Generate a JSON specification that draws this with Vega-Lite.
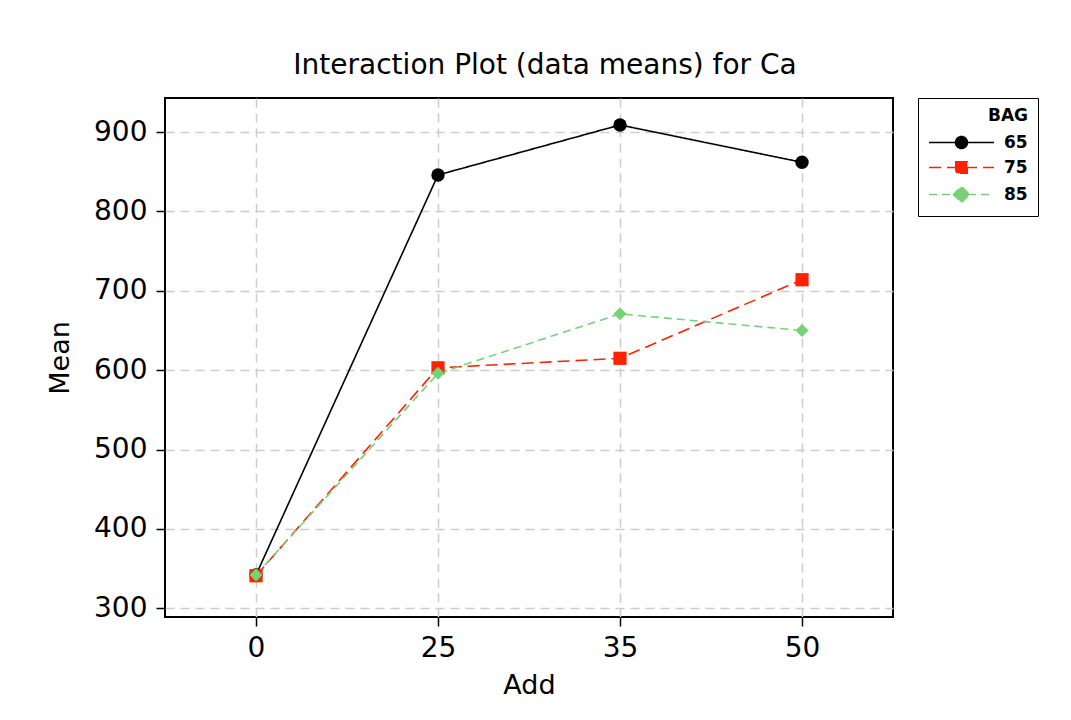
{
  "$schema": "https://vega.github.io/schema/vega-lite/v6.json",
  "width": 728,
  "height": 519,
  "autosize": "none",
  "padding": {"left": 165, "top": 98, "right": 178, "bottom": 103},
  "background": "white",
  "title": {
    "text": "Interaction Plot (data means) for Ca",
    "font": "DejaVu Sans",
    "fontSize": 28,
    "fontWeight": "normal",
    "color": "black",
    "anchor": "middle",
    "dx": 16,
    "offset": 18
  },
  "data": {
    "values": [
      {"BAG": "65", "Add": 0, "Mean": 342},
      {"BAG": "65", "Add": 25, "Mean": 846},
      {"BAG": "65", "Add": 35, "Mean": 909},
      {"BAG": "65", "Add": 50, "Mean": 862},
      {"BAG": "75", "Add": 0, "Mean": 341},
      {"BAG": "75", "Add": 25, "Mean": 603},
      {"BAG": "75", "Add": 35, "Mean": 615},
      {"BAG": "75", "Add": 50, "Mean": 714},
      {"BAG": "85", "Add": 0, "Mean": 342},
      {"BAG": "85", "Add": 25, "Mean": 596},
      {"BAG": "85", "Add": 35, "Mean": 671},
      {"BAG": "85", "Add": 50, "Mean": 650}
    ]
  },
  "config": {
    "view": {"stroke": "black", "strokeWidth": 2},
    "axis": {
      "domain": false,
      "grid": true,
      "gridColor": "#cccccc",
      "gridDash": [9, 6],
      "gridWidth": 1.5,
      "tickColor": "black",
      "tickWidth": 1.5,
      "tickSize": 9,
      "labelFont": "DejaVu Sans",
      "labelFontSize": 28,
      "labelColor": "black",
      "titleFont": "DejaVu Sans",
      "titleFontSize": 27,
      "titleFontWeight": "normal",
      "titleColor": "black"
    },
    "legend": {
      "orient": "none",
      "legendX": 753,
      "legendY": 0,
      "strokeColor": "black",
      "fillColor": "white",
      "padding": 10,
      "titleFont": "DejaVu Sans",
      "titleFontSize": 17,
      "titleFontWeight": "bold",
      "titleColor": "black",
      "titleAnchor": "end",
      "titlePadding": 9,
      "labelFont": "DejaVu Sans",
      "labelFontSize": 17,
      "labelFontWeight": "bold",
      "labelColor": "black",
      "symbolSize": 169,
      "symbolStrokeWidth": 1.5,
      "symbolOpacity": 1,
      "symbolOffset": 25,
      "labelOffset": 34,
      "rowPadding": 6
    }
  },
  "encoding": {
    "x": {
      "field": "Add",
      "type": "ordinal",
      "sort": [0, 25, 35, 50],
      "scale": {"type": "point", "padding": 0.5},
      "axis": {"title": "Add", "labelAngle": 0, "labelPadding": 8, "titlePadding": 10}
    },
    "y": {
      "field": "Mean",
      "type": "quantitative",
      "scale": {"domain": [289, 943], "nice": false, "zero": false},
      "axis": {"title": "Mean", "values": [300, 400, 500, 600, 700, 800, 900], "labelPadding": 9, "titlePadding": 19}
    }
  },
  "resolve": {
    "scale": {"shape": "independent", "strokeDash": "independent", "fill": "independent", "stroke": "independent"}
  },
  "layer": [
    {
      "mark": {"type": "line", "strokeWidth": 1.6},
      "encoding": {
        "color": {
          "field": "BAG",
          "type": "nominal",
          "scale": {"domain": ["65", "75", "85"], "range": ["black", "#FF2200", "#76D276"]},
          "legend": null
        },
        "strokeDash": {
          "field": "BAG",
          "type": "nominal",
          "scale": {"domain": ["65", "75", "85"], "range": [[1, 0], [12, 6], [8, 5]]},
          "legend": null
        }
      }
    },
    {
      "mark": {"type": "point", "filled": true, "opacity": 1},
      "encoding": {
        "color": {
          "field": "BAG",
          "type": "nominal",
          "scale": {"domain": ["65", "75", "85"], "range": ["black", "#FF2200", "#76D276"]},
          "legend": null
        },
        "shape": {
          "field": "BAG",
          "type": "nominal",
          "scale": {"domain": ["65", "75", "85"], "range": ["circle", "square", "diamond"]},
          "legend": null
        },
        "size": {
          "field": "BAG",
          "type": "nominal",
          "scale": {"domain": ["65", "75", "85"], "range": [180, 169, 300]},
          "legend": null
        }
      }
    },
    {
      "mark": {"type": "point", "filled": true, "opacity": 0, "strokeWidth": 1.5},
      "encoding": {
        "fill": {
          "field": "BAG",
          "type": "nominal",
          "title": "BAG",
          "scale": {"domain": ["65", "75", "85"], "range": ["black", "#FF2200", "#76D276"]}
        },
        "stroke": {
          "field": "BAG",
          "type": "nominal",
          "title": "BAG",
          "scale": {"domain": ["65", "75", "85"], "range": ["black", "#FF2200", "#76D276"]}
        },
        "shape": {
          "field": "BAG",
          "type": "nominal",
          "title": "BAG",
          "scale": {
            "domain": ["65", "75", "85"],
            "range": [
              "M-5,0H5M0.92,0A0.92,0.92 0 1,1 -0.92,0A0.92,0.92 0 1,1 0.92,0Z",
              "M-5,0H5M-0.88,-0.88H0.88V0.88H-0.88Z",
              "M-5,0H5M-1.25,0L0,-1.25L1.25,0L0,1.25Z"
            ]
          }
        },
        "strokeDash": {
          "field": "BAG",
          "type": "nominal",
          "title": "BAG",
          "scale": {"domain": ["65", "75", "85"], "range": [[1, 0], [12, 6], [8, 5]]}
        }
      }
    }
  ]
}
